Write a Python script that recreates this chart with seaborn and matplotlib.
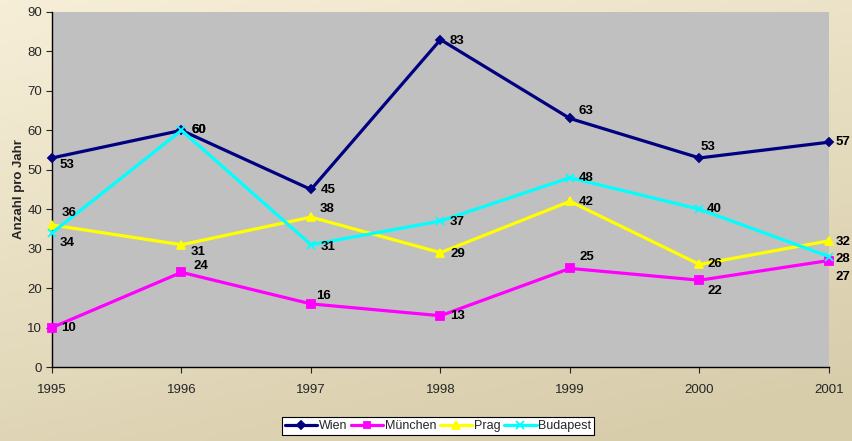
import numpy as np
import pandas as pd
import matplotlib
matplotlib.use("Agg")
import matplotlib.pyplot as plt
import seaborn as sns

years = [1995, 1996, 1997, 1998, 1999, 2000, 2001]
wien = [53, 60, 45, 83, 63, 53, 57]
muenchen = [10, 24, 16, 13, 25, 22, 27]
prag = [36, 31, 38, 29, 42, 26, 32]
budapest = [34, 60, 31, 37, 48, 40, 28]
series_names = ["Wien", "München", "Prag", "Budapest"]
y_label = "Anzahl pro Jahr"

# styles
colors = {"Wien": "#000080", "München": "#FF00FF", "Prag": "#FFFF00", "Budapest": "#00FFFF"}
markers = {"Wien": "D", "München": "s", "Prag": "^", "Budapest": "x"}
msizes = {"Wien": 4.5, "München": 5.2, "Prag": 6, "Budapest": 6}
# label offsets in pixels (dx, dy up-positive)
offsets = {
    "Wien": [(15, -7), (17, 0), (17, -1), (17, -1), (16, 7), (8, 11), (14, 0)],
    "München": [(17, 0), (19, 6), (13, 8), (17, 0), (17, 11), (15, -11), (14, -17)],
    "Prag": [(17, 12), (17, -7), (16, 8), (17, -1), (16, -1), (15, 0), (14, -1)],
    "Budapest": [(15, -10), (17, 0), (17, -2), (17, -1), (16, 0), (15, 0), (14, -2)],
}

values = {"Wien": wien, "München": muenchen, "Prag": prag, "Budapest": budapest}
frames = [pd.DataFrame({"Jahr": years, "Wert": values[n], "Stadt": n}) for n in series_names]
df = pd.concat(frames, ignore_index=True)

sns.set_style("ticks")
plt.rcParams["font.family"] = ["Liberation Sans", "DejaVu Sans"]

fig = plt.figure(figsize=(8.53, 4.41), dpi=100)

# gradient background
bg = fig.add_axes([0, 0, 1, 1], zorder=-10)
top = np.array([0.965, 0.935, 0.845])
bot = np.array([0.835, 0.792, 0.655])
h, w = 100, 100
yy, xx = np.mgrid[0:1:h * 1j, 0:1:w * 1j]
t = np.clip(0.75 * yy + 0.35 * xx, 0, 1)[..., None] / 1.1
img = top * (1 - t) + bot * t
bg.imshow(img, aspect="auto", extent=[0, 1, 0, 1], origin="upper")
bg.axis("off")

ax = fig.add_axes([52 / 853, 1 - 367 / 441, (829 - 52) / 853, (367 - 12) / 441])
ax.set_facecolor("#C0C0C0")

for n in series_names:
    sub = df[df["Stadt"] == n]
    sns.lineplot(data=sub, x="Jahr", y="Wert", ax=ax, color=colors[n], linewidth=2.3,
                 marker=markers[n], markersize=msizes[n], markeredgecolor=colors[n],
                 markeredgewidth=1.3, label=n, clip_on=False, zorder=3)
    for i, (x, y) in enumerate(zip(sub["Jahr"], sub["Wert"])):
        dx, dy = offsets[n][i]
        ax.annotate(str(y), (x, y), xytext=(dx, dy), textcoords="offset pixels",
                    ha="center", va="center", fontsize=9.5, fontweight="bold",
                    color="black", zorder=5, annotation_clip=False)

ax.set_xlim(1995, 2001)
ax.set_ylim(0, 90)
ax.set_xticks(years)
ax.set_xticklabels([str(y) for y in years], fontsize=9.5)
ax.set_yticks(range(0, 91, 10))
ax.tick_params(axis="y", labelsize=9.5, length=4, width=0.8, pad=3)
ax.tick_params(axis="x", labelsize=9.5, length=4, width=0.8, pad=8)
ax.set_xlabel("")
ax.set_ylabel(y_label, fontsize=9.5, fontweight="bold", labelpad=2)
for s in ["top", "right"]:
    ax.spines[s].set_visible(False)
for s in ["left", "bottom"]:
    ax.spines[s].set_color("black")
    ax.spines[s].set_linewidth(1.0)

ax.legend_.remove()
handles, labels = ax.get_legend_handles_labels()
leg = fig.legend(handles, labels, loc="center", bbox_to_anchor=(438 / 853, 1 - 426 / 441),
                 ncol=4, fontsize=9, frameon=True, fancybox=False, edgecolor="black",
                 facecolor="white", framealpha=1, handlelength=2.6, handletextpad=0.1,
                 columnspacing=0.3, borderpad=0.25, markerscale=0.9)
leg.get_frame().set_linewidth(0.8)

fig.savefig("out.png", dpi=100)
